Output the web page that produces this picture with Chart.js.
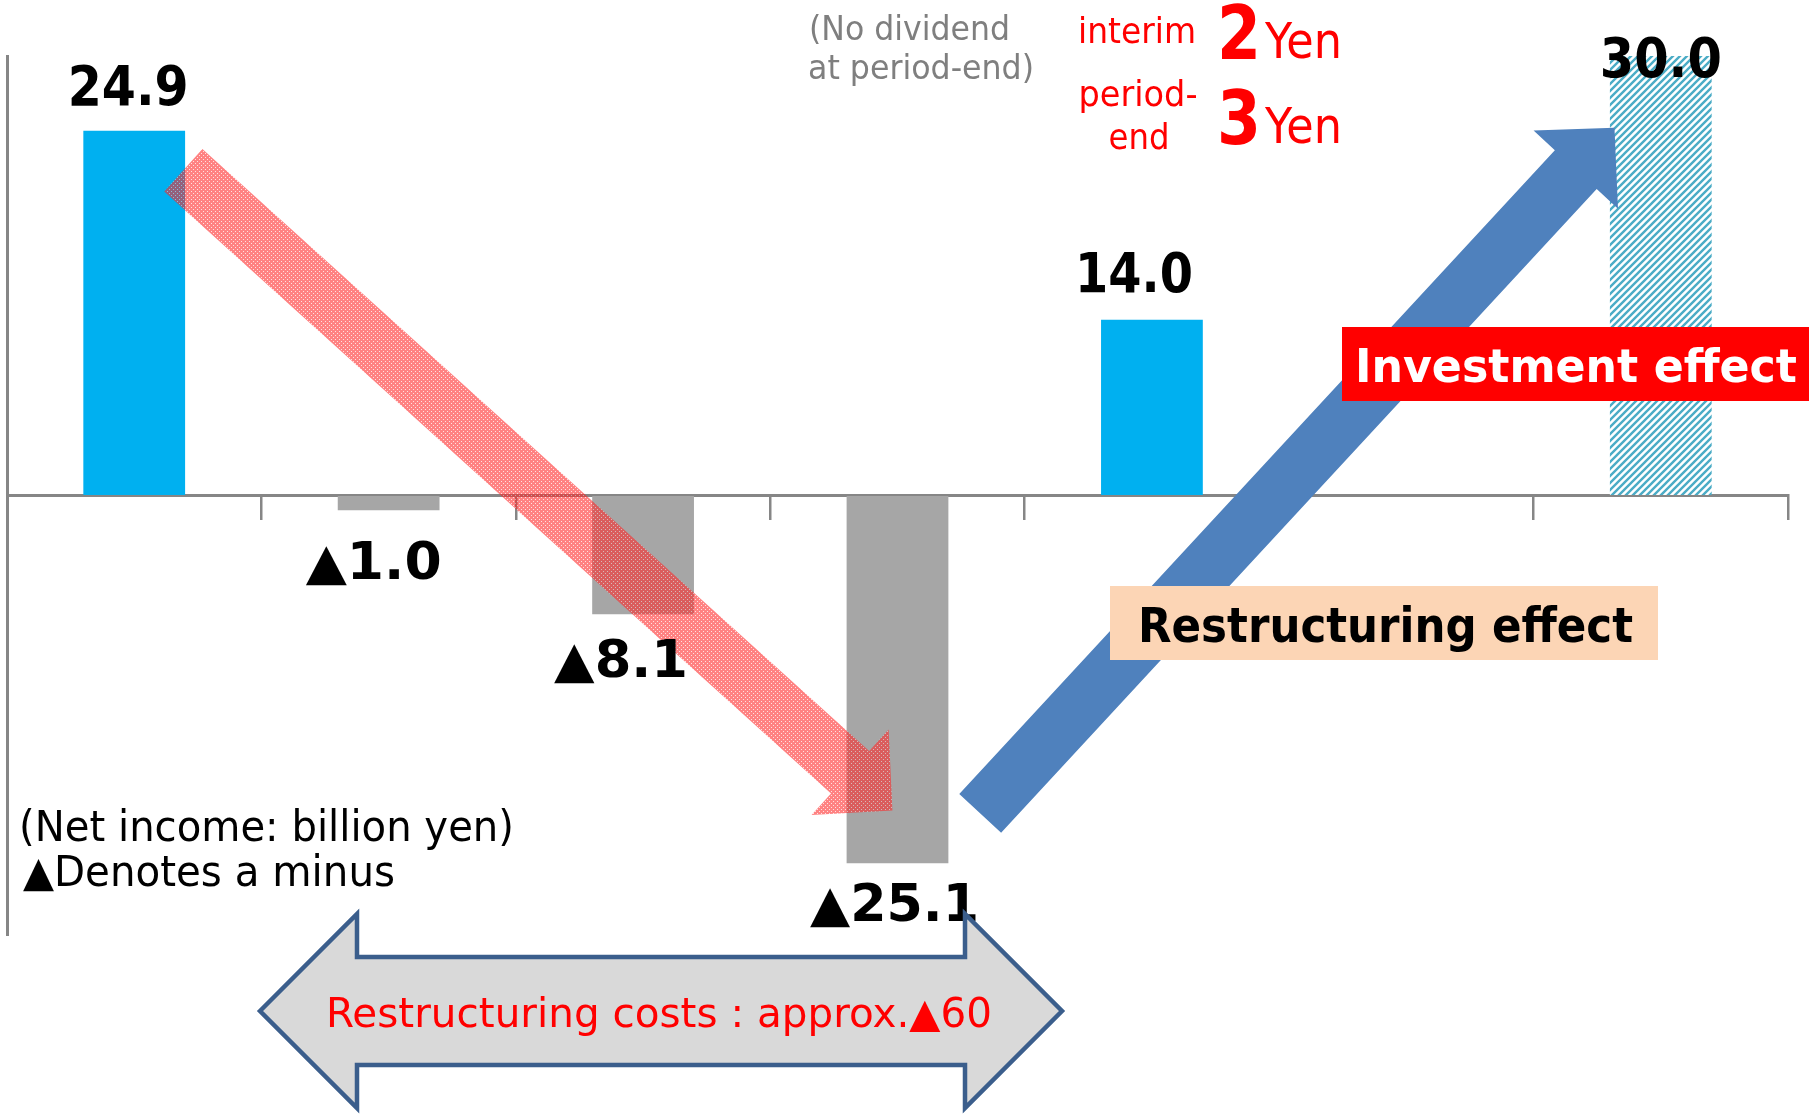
<!DOCTYPE html>
<html>
<head>
<meta charset="utf-8">
<script src="https://cdn.jsdelivr.net/npm/chart.js@4.4.1/dist/chart.umd.min.js"></script>
<style>
    html, body { margin: 0; padding: 0; background: #ffffff; }
    canvas { display: block; }
</style>
</head>
<body>
<canvas id="incomeChart" width="1809" height="1114"></canvas>
<script>
// Net income (billion yen). The 6th slot is empty in the picture.
// Bar 5 is drawn at about 12 on the axis although its label reads 14.0
const categories = ['', '', '', '', '', '', ''];
const netIncome = [24.9, -1.0, -8.1, -25.1, 12.0, null, 30.0];
const valueLabels = ['24.9', '▲1.0', '▲8.1', '▲25.1', '14.0', '', '30.0'];
const yMin = -30;
const yMax = 30;

const RED = '#ff0000';
const AXIS = '#868686';
const FONT = '"DejaVu Sans", "Noto Sans", sans-serif';

const canvas = document.getElementById('incomeChart');
const ctx = canvas.getContext('2d');

// diagonal hatch for the target bar
function makeHatch() {
    const tile = document.createElement('canvas');
    tile.width = 7; tile.height = 7;
    const g = tile.getContext('2d');
    g.fillStyle = '#ffffff';
    g.fillRect(0, 0, 7, 7);
    g.strokeStyle = '#4bacc6';
    g.lineWidth = 2.4;
    g.beginPath();
    g.moveTo(-1, 8); g.lineTo(8, -1);
    g.moveTo(-1, 1); g.lineTo(1, -1);
    g.moveTo(6, 8); g.lineTo(8, 6);
    g.stroke();
    return ctx.createPattern(tile, 'repeat');
}

// dotted translucent red for the downward arrow
function makeDots() {
    const tile = document.createElement('canvas');
    tile.width = 4; tile.height = 4;
    const g = tile.getContext('2d');
    g.fillStyle = 'rgba(255,40,40,0.58)';
    g.fillRect(0, 0, 4, 4);
    g.clearRect(1, 1, 1, 1);
    g.clearRect(3, 3, 1, 1);
    g.fillStyle = 'rgba(255,200,200,0.55)';
    g.fillRect(1, 1, 1, 1);
    g.fillRect(3, 3, 1, 1);
    return ctx.createPattern(tile, 'repeat');
}

const barColors = ['#00b0f0', '#a6a6a6', '#a6a6a6', '#a6a6a6', '#00b0f0', '#ffffff', makeHatch()];

// arrows in chart coordinates: [category index, value]
const redArrow = { from: [0.193, 22.2], to: [2.98, -21.5], fill: makeDots() };
const blueArrow = { from: [3.325, -21.7], to: [5.818, 25.1], fill: '#4f81bd' };

// label tweaks around each bar: [dx, dy, width]
const labelLayout = [[-6, 1, 121], [-15, 6, 136], [-22, 0, 134], [-3, -5, 169], [-18, -1, 118], [0, 0, 0], [0, 0, 122]];

function fitText(c, text, x, y, width, font, color, align) {
    c.save();
    c.font = font;
    const w = c.measureText(text).width;
    const s = width / w;
    c.translate(x, y);
    c.scale(s, 1);
    c.fillStyle = color;
    c.textAlign = align || 'left';
    c.textBaseline = 'alphabetic';
    c.fillText(text, 0, 0);
    c.restore();
}

function blockArrow(c, t, p, shaft, head, headLen, fill) {
    const dx = p[0] - t[0], dy = p[1] - t[1];
    const len = Math.hypot(dx, dy);
    const ux = dx / len, uy = dy / len;
    const nx = -uy, ny = ux;
    const bx = p[0] - ux * headLen, by = p[1] - uy * headLen;
    c.save();
    c.beginPath();
    c.moveTo(t[0] + nx * shaft / 2, t[1] + ny * shaft / 2);
    c.lineTo(bx + nx * shaft / 2, by + ny * shaft / 2);
    c.lineTo(bx + nx * head / 2, by + ny * head / 2);
    c.lineTo(p[0], p[1]);
    c.lineTo(bx - nx * head / 2, by - ny * head / 2);
    c.lineTo(bx - nx * shaft / 2, by - ny * shaft / 2);
    c.lineTo(t[0] - nx * shaft / 2, t[1] - ny * shaft / 2);
    c.closePath();
    c.fillStyle = fill;
    c.fill();
    c.restore();
}

const overlayPlugin = {
    id: 'overlay',
    afterDatasetsDraw(chart) {
        const c = chart.ctx;
        const xs = chart.scales.x, ys = chart.scales.y;
        const px = pt => [xs.getPixelForValue(pt[0]), ys.getPixelForValue(pt[1])];

        blockArrow(c, px(redArrow.from), px(redArrow.to), 57, 115, 57, redArrow.fill);
        blockArrow(c, px(blueArrow.from), px(blueArrow.to), 57, 115, 57, blueArrow.fill);

        // value labels
        const meta = chart.getDatasetMeta(0);
        meta.data.forEach((bar, i) => {
            if (!valueLabels[i]) return;
            const [dx, dy, w] = labelLayout[i];
            const v = netIncome[i];
            const y = v >= 0 ? Math.max(bar.y - 27, 77) : bar.y + 63;
            const font = 'bold ' + (v >= 0 ? 55 : 51) + 'px ' + FONT;
            fitText(c, valueLabels[i], bar.x + dx, y + dy, w, font, '#000000', 'center');
        });

        // effect boxes
        c.fillStyle = RED;
        c.fillRect(1342, 327, 467, 74);
        fitText(c, 'Investment effect', 1355, 382, 442, 'bold 46px ' + FONT, '#ffffff', 'left');
        c.fillStyle = '#fcd5b5';
        c.fillRect(1110, 586, 548, 74);
        fitText(c, 'Restructuring effect', 1138, 642, 495, 'bold 48px ' + FONT, '#000000', 'left');

        // dividend notes
        fitText(c, '(No dividend', 809, 40, 201, '33px ' + FONT, '#7f7f7f', 'left');
        fitText(c, 'at period-end)', 808, 79, 226, '33px ' + FONT, '#7f7f7f', 'left');
        fitText(c, 'interim', 1137, 43, 118, '35px ' + FONT, RED, 'center');
        fitText(c, 'period-', 1138, 106, 119, '35px ' + FONT, RED, 'center');
        fitText(c, 'end', 1139, 149, 61, '35px ' + FONT, RED, 'center');
        fitText(c, '2', 1239, 59, 44, 'bold 74px ' + FONT, RED, 'center');
        fitText(c, 'Yen', 1265, 58, 77, '50px ' + FONT, RED, 'left');
        fitText(c, '3', 1239, 144, 44, 'bold 74px ' + FONT, RED, 'center');
        fitText(c, 'Yen', 1265, 143, 77, '50px ' + FONT, RED, 'left');

        // unit note
        fitText(c, '(Net income: billion yen)', 19, 841, 495, '43px ' + FONT, '#000000', 'left');
        fitText(c, '▲Denotes a minus', 23, 886, 372, '42px ' + FONT, '#000000', 'left');

        // restructuring cost double arrow
        c.save();
        c.beginPath();
        c.moveTo(260, 1011);
        c.lineTo(357, 914);
        c.lineTo(357, 957);
        c.lineTo(965, 957);
        c.lineTo(965, 914);
        c.lineTo(1062, 1011);
        c.lineTo(965, 1108);
        c.lineTo(965, 1065);
        c.lineTo(357, 1065);
        c.lineTo(357, 1108);
        c.closePath();
        c.fillStyle = '#d9d9d9';
        c.fill();
        c.lineWidth = 4.5;
        c.lineJoin = 'miter';
        c.strokeStyle = '#3b5e8c';
        c.stroke();
        c.restore();
        fitText(c, 'Restructuring costs : approx.▲60', 326, 1027, 666, '41px ' + FONT, RED, 'left');
    }
};

new Chart(ctx, {
    type: 'bar',
    data: {
        labels: categories,
        datasets: [{
            data: netIncome,
            backgroundColor: barColors,
            borderWidth: 0,
            barPercentage: 0.4,
            categoryPercentage: 1.0
        }]
    },
    options: {
        responsive: false,
        animation: false,
        devicePixelRatio: 1,
        layout: { padding: { left: 7, right: 21, top: 56, bottom: 179 } },
        plugins: {
            legend: { display: false },
            tooltip: { enabled: false }
        },
        scales: {
            x: {
                position: { y: 0 },
                ticks: { display: false },
                grid: {
                    offset: true,
                    drawOnChartArea: false,
                    drawTicks: true,
                    tickLength: 23,
                    lineWidth: 2.5,
                    color: c => c.index === 5 ? 'rgba(0,0,0,0)' : AXIS
                },
                border: { display: true, color: AXIS, width: 3 }
            },
            y: {
                min: yMin,
                max: yMax,
                ticks: { display: false },
                grid: { drawOnChartArea: false, drawTicks: false },
                border: { display: true, color: AXIS, width: 3 }
            }
        }
    },
    plugins: [overlayPlugin]
});
</script>
</body>
</html>
